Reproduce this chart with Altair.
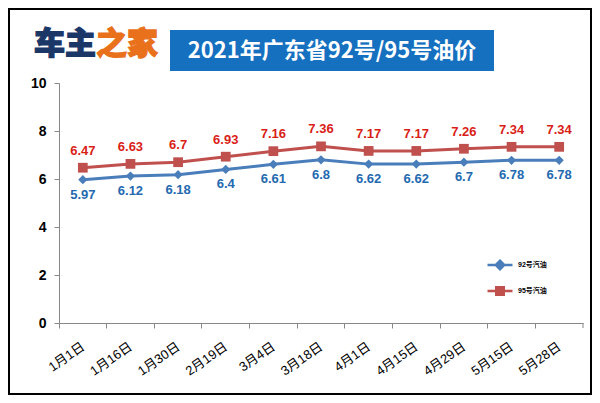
import altair as alt
import pandas as pd

dates = ["1月1日", "1月16日", "1月30日", "2月19日", "3月4日", "3月18日",
         "4月1日", "4月15日", "4月29日", "5月15日", "5月28日"]
p92 = [5.97, 6.12, 6.18, 6.4, 6.61, 6.8, 6.62, 6.62, 6.7, 6.78, 6.78]
p95 = [6.47, 6.63, 6.7, 6.93, 7.16, 7.36, 7.17, 7.17, 7.26, 7.34, 7.34]
series = ["92号汽油", "95号汽油"]
title_text = "2021年广东省92号/95号油价"
logo_a = "车主"
logo_b = "之家"

rows = []
for d, v in zip(dates, p92):
    rows.append({"date": d, "price": v, "series": series[0], "label": str(v)})
for d, v in zip(dates, p95):
    rows.append({"date": d, "price": v, "series": series[1], "label": str(v)})
df = pd.DataFrame(rows)

LINE_BLUE = "#4A7EBB"
LINE_RED = "#C0504D"
LAB_BLUE = "#2369B0"
LAB_RED = "#D91E18"
FONT = "Liberation Sans, Noto Sans CJK SC"

path92 = "M-1,0L1,0M0,-0.34L0.34,0L0,0.34L-0.34,0Z"
path95 = "M-1,0L1,0M-0.3,-0.3L0.3,-0.3L0.3,0.3L-0.3,0.3Z"

color_scale = alt.Scale(domain=series, range=[LINE_BLUE, LINE_RED])

x_enc = alt.X(
    "date:N", sort=dates, title=None,
    scale=alt.Scale(type="band", paddingInner=0, paddingOuter=0),
    axis=alt.Axis(labelAngle=325, labelAlign="right", labelBaseline="top",
                  bandPosition=0, labelOffset=-3, tickSize=5, labelPadding=12,
                  domainColor="#888888", tickColor="#888888", grid=False,
                  labelFont=FONT, labelFontSize=13, labelColor="#000000"),
)
y_enc = alt.Y(
    "price:Q", title=None, scale=alt.Scale(domain=[0, 10]),
    axis=alt.Axis(values=[0, 2, 4, 6, 8, 10], tickSize=5, labelPadding=8,
                  domainColor="#888888", tickColor="#888888", grid=False,
                  labelFont=FONT, labelFontSize=14, labelFontWeight="bold",
                  labelColor="#000000"),
)

base = alt.Chart(df)

lines = base.mark_line(strokeWidth=3).encode(
    x=x_enc, y=y_enc,
    color=alt.Color("series:N", scale=color_scale, legend=None),
)

leg = alt.Legend(
    title=None, orient="none", legendX=427, legendY=168,
    symbolSize=625, symbolStrokeWidth=2.5, symbolOpacity=1,
    rowPadding=2, labelOffset=4,
    labelFont=FONT, labelFontSize=7, labelFontWeight="bold",
    labelColor="#000000",
)
legend_layer = base.mark_point(
    strokeWidth=2.5, opacity=0, size=1
).encode(
    x=x_enc, y=y_enc,
    fill=alt.Fill("series:N", scale=color_scale, legend=leg),
    stroke=alt.Stroke("series:N", scale=color_scale, legend=leg),
    shape=alt.Shape("series:N", scale=alt.Scale(domain=series, range=[path92, path95]), legend=leg),
)

points92 = base.transform_filter(alt.datum.series == series[0]).mark_point(
    shape="diamond", filled=True, size=85, opacity=1, color=LINE_BLUE
).encode(x=x_enc, y=y_enc)
points95 = base.transform_filter(alt.datum.series == series[1]).mark_point(
    shape="square", filled=True, size=95, opacity=1, color=LINE_RED
).encode(x=x_enc, y=y_enc)

labels92 = base.transform_filter(alt.datum.series == series[0]).mark_text(
    dy=15, font=FONT, fontSize=13, fontWeight="bold", color=LAB_BLUE
).encode(x=x_enc, y=y_enc, text="label:N")
labels95 = base.transform_filter(alt.datum.series == series[1]).mark_text(
    dy=-17, font=FONT, fontSize=13, fontWeight="bold", color=LAB_RED
).encode(x=x_enc, y=y_enc, text="label:N")

one = alt.Chart(pd.DataFrame({"k": [0]}))

end_tick = one.mark_rule(color="#888888", strokeWidth=1).encode(
    x=alt.value(524), y=alt.value(240), y2=alt.value(245)
)
border = one.mark_rect(fillOpacity=0, stroke="#000000", strokeWidth=2).encode(
    x=alt.value(-50), x2=alt.value(532), y=alt.value(-74), y2=alt.value(311)
)
title_box = one.mark_rect(color="#1670C0").encode(
    x=alt.value(111), x2=alt.value(435), y=alt.value(-53), y2=alt.value(-12)
)
title_mark = one.mark_text(
    text=title_text, font="Noto Sans CJK SC", fontSize=22, fontWeight="bold",
    color="#FFFFFF", align="center", baseline="middle"
).encode(x=alt.value(273), y=alt.value(-32))
logo1 = one.mark_text(
    text=logo_a, font="Noto Sans CJK SC", fontSize=31, fontWeight=900,
    color="#1B3768", align="right", baseline="middle",
    stroke="#1B3768", strokeWidth=1.2
).encode(x=alt.value(37), y=alt.value(-38))
logo2 = one.mark_text(
    text=logo_b, font="Noto Sans CJK SC", fontSize=31, fontWeight=900,
    color="#E9711C", align="left", baseline="middle",
    stroke="#E9711C", strokeWidth=1.2
).encode(x=alt.value(37), y=alt.value(-38))

chart = alt.layer(
    border, title_box, title_mark, logo1, logo2, end_tick,
    legend_layer, lines, points92, points95, labels92, labels95
).properties(
    width=524, height=240,
    autosize=alt.AutoSizeParams(type="none"),
    padding={"left": 51, "top": 75, "right": 9, "bottom": 72},
    background="#FFFFFF",
).configure_view(stroke=None)

chart.save("out.html", embed_options={"renderer": "svg", "actions": False})
